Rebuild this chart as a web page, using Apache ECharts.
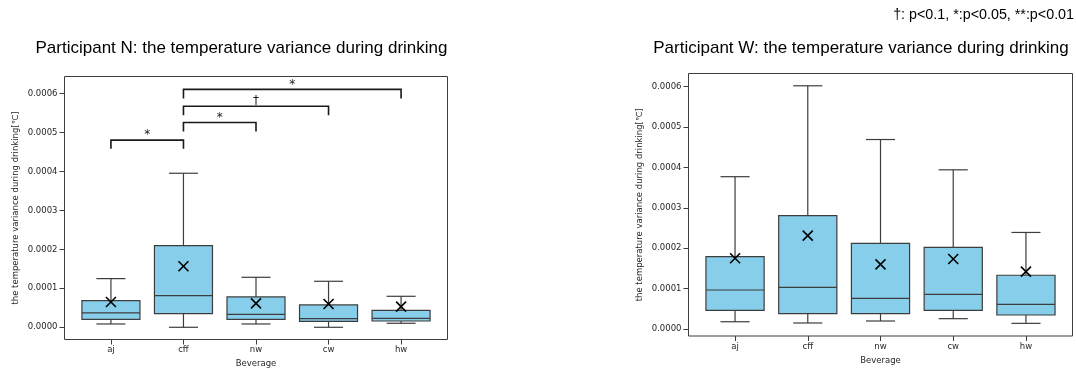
<!DOCTYPE html>
<html><head><meta charset="utf-8">
<script src="https://cdn.jsdelivr.net/npm/echarts@6/dist/echarts.min.js"></script>
<style>html,body{margin:0;padding:0;background:#fff}#c{width:1076px;height:368px}</style>
</head><body><div id="c"></div>
<script>
const categories = ['aj', 'cff', 'nw', 'cw', 'hw'];
const yTicks = [0, 0.0001, 0.0002, 0.0003, 0.0004, 0.0005, 0.0006];

// Participant N
const nLow  = [0.085e-4, 0.0,      0.085e-4, 0.0,      0.103e-4];
const nQ1   = [0.205e-4, 0.35e-4,  0.205e-4, 0.154e-4, 0.162e-4];
const nMed  = [0.368e-4, 0.812e-4, 0.333e-4, 0.222e-4, 0.231e-4];
const nQ3   = [0.684e-4, 2.094e-4, 0.778e-4, 0.573e-4, 0.436e-4];
const nHigh = [1.248e-4, 3.95e-4,  1.282e-4, 1.18e-4,  0.795e-4];
const nMean = [0.65e-4,  1.564e-4, 0.615e-4, 0.598e-4, 0.53e-4];

// Participant W
const wLow  = [0.18e-4,  0.149e-4, 0.198e-4, 0.256e-4, 0.14e-4];
const wQ1   = [0.462e-4, 0.38e-4,  0.38e-4,  0.462e-4, 0.347e-4];
const wMed  = [0.965e-4, 1.03e-4,  0.76e-4,  0.858e-4, 0.61e-4];
const wQ3   = [1.79e-4,  2.805e-4, 2.12e-4,  2.02e-4,  1.33e-4];
const wHigh = [3.77e-4,  6.02e-4,  4.69e-4,  3.94e-4,  2.39e-4];
const wMean = [1.75e-4,  2.31e-4,  1.60e-4,  1.733e-4, 1.42e-4];

// significance brackets (Participant N)
const brFrom = [0, 1, 1, 1];
const brTo   = [1, 2, 3, 4];
const brTop  = [4.80e-4, 5.25e-4, 5.67e-4, 6.10e-4];
const brLeg  = [4.58e-4, 5.02e-4, 5.44e-4, 5.87e-4];
const brMark = ['*', '*', '†', '*'];

const titleN = 'Participant N: the temperature variance during drinking';
const titleW = 'Participant W: the temperature variance during drinking';
const sigNote = '†: p<0.1, *:p<0.05, **:p<0.01';
const yName = 'the temperature variance during drinking[℃]';
const xName = 'Beverage';

const EDGE = '#3d3d3d';
const FILL = '#87CEEB';
const TXT = '#262626';
const tickFont = {fontFamily: 'DejaVu Sans', fontSize: 8.5, color: TXT};

function boxRows(lo, q1, med, q3, hi, mean) {
  return categories.map((c, i) => [i, lo[i], q1[i], med[i], q3[i], hi[i], mean[i]]);
}

function renderBox(params, api) {
  const x = api.value(0);
  const p = k => api.coord([x, api.value(k)]);
  const lo = p(1), q1 = p(2), md = p(3), q3 = p(4), hi = p(5), mn = p(6);
  const cx = lo[0];
  const hw = api.size([0.8, 0])[0] / 2;
  const cw = hw / 2;
  const ls = {stroke: EDGE, lineWidth: 1.2};
  const ms = {stroke: '#000', lineWidth: 1.6};
  const m = 5;
  return {type: 'group', children: [
    {type: 'line', shape: {x1: cx, y1: q1[1], x2: cx, y2: lo[1]}, style: ls},
    {type: 'line', shape: {x1: cx, y1: q3[1], x2: cx, y2: hi[1]}, style: ls},
    {type: 'line', shape: {x1: cx - cw, y1: lo[1], x2: cx + cw, y2: lo[1]}, style: ls},
    {type: 'line', shape: {x1: cx - cw, y1: hi[1], x2: cx + cw, y2: hi[1]}, style: ls},
    {type: 'rect', shape: {x: cx - hw, y: q3[1], width: 2 * hw, height: q1[1] - q3[1]},
      style: {fill: FILL, stroke: EDGE, lineWidth: 1.2}},
    {type: 'line', shape: {x1: cx - hw, y1: md[1], x2: cx + hw, y2: md[1]}, style: ls},
    {type: 'line', shape: {x1: mn[0] - m, y1: mn[1] - m, x2: mn[0] + m, y2: mn[1] + m}, style: ms},
    {type: 'line', shape: {x1: mn[0] - m, y1: mn[1] + m, x2: mn[0] + m, y2: mn[1] - m}, style: ms}
  ]};
}

function renderBracket(params, api) {
  const i = params.dataIndex;
  const a = api.coord([api.value(0), api.value(3)]);
  const b = api.coord([api.value(1), api.value(3)]);
  const t = api.coord([api.value(0), api.value(2)]);
  const ty = t[1];
  const st = {stroke: '#1a1a1a', lineWidth: 1.6, fill: null};
  return {type: 'group', children: [
    {type: 'polyline', shape: {points: [[a[0], a[1]], [a[0], ty], [b[0], ty], [b[0], b[1]]]}, style: st},
    {type: 'text', style: {x: (a[0] + b[0]) / 2, y: ty + 1, text: brMark[i], align: 'center',
      verticalAlign: 'bottom', fontFamily: 'DejaVu Sans', fontSize: 12, fill: '#1a1a1a'}}
  ]};
}

function xAxisCfg(idx) {
  return {
    type: 'value', gridIndex: idx, min: -0.64, max: 4.64,
    name: xName, nameLocation: 'middle', nameGap: 20,
    nameTextStyle: tickFont,
    axisLine: {show: false, onZero: false}, splitLine: {show: false},
    axisTick: {show: true, length: 5, customValues: [0, 1, 2, 3, 4], lineStyle: {color: EDGE}},
    axisLabel: Object.assign({customValues: [0, 1, 2, 3, 4], margin: 6,
      formatter: v => categories[Math.round(v)] || ''}, tickFont)
  };
}
function yAxisCfg(idx, mn, mx) {
  return {
    type: 'value', gridIndex: idx, min: mn, max: mx,
    name: yName, nameLocation: 'middle', nameGap: 44, nameRotate: 90,
    nameTextStyle: tickFont,
    axisLine: {show: false, onZero: false}, splitLine: {show: false},
    axisTick: {show: true, length: 5, customValues: yTicks, lineStyle: {color: EDGE}},
    axisLabel: Object.assign({customValues: yTicks, margin: 7,
      formatter: v => v.toFixed(4)}, tickFont)
  };
}

const chart = echarts.init(document.getElementById('c'), null, {renderer: 'canvas'});
chart.setOption({
  animation: false,
  backgroundColor: '#fff',
  grid: [
    {left: 64.5, top: 76.5, width: 383, height: 263, show: true, borderColor: EDGE, borderWidth: 1,
      backgroundColor: 'transparent', containLabel: false, outerBoundsMode: 'none'},
    {left: 688.5, top: 73.5, width: 384, height: 262.5, show: true, borderColor: EDGE, borderWidth: 1,
      backgroundColor: 'transparent', containLabel: false, outerBoundsMode: 'none'}
  ],
  xAxis: [xAxisCfg(0), xAxisCfg(1)],
  yAxis: [yAxisCfg(0, -3.13e-5, 6.431e-4), yAxisCfg(1, -1.73e-5, 6.324e-4)],
  graphic: [
    {type: 'text', x: 241.5, y: 48, style: {text: titleN, align: 'center', verticalAlign: 'middle',
      fontFamily: 'Liberation Sans', fontSize: 17, fill: '#000'}},
    {type: 'text', x: 861, y: 48, style: {text: titleW, align: 'center', verticalAlign: 'middle',
      fontFamily: 'Liberation Sans', fontSize: 17, fill: '#000'}},
    {type: 'text', x: 1074, y: 15, style: {text: sigNote, align: 'right', verticalAlign: 'middle',
      fontFamily: 'Liberation Sans', fontSize: 14.3, fill: '#000'}}
  ],
  series: [
    {type: 'custom', xAxisIndex: 0, yAxisIndex: 0, renderItem: renderBox,
      data: boxRows(nLow, nQ1, nMed, nQ3, nHigh, nMean)},
    {type: 'custom', xAxisIndex: 1, yAxisIndex: 1, renderItem: renderBox,
      data: boxRows(wLow, wQ1, wMed, wQ3, wHigh, wMean)},
    {type: 'custom', xAxisIndex: 0, yAxisIndex: 0, renderItem: renderBracket,
      data: brFrom.map((f, i) => [f, brTo[i], brTop[i], brLeg[i]])}
  ]
});
</script></body></html>
